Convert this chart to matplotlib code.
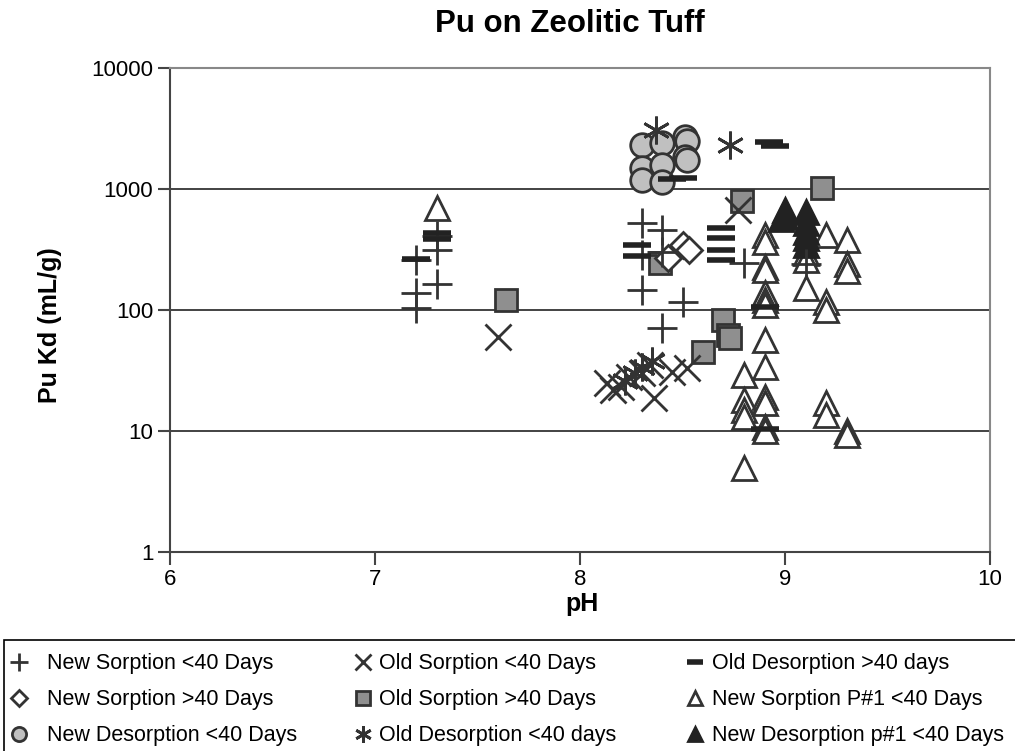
import matplotlib
matplotlib.use("Agg")
import matplotlib.pyplot as plt
from matplotlib.patches import Rectangle

plt.rcParams['font.family'] = ['Liberation Sans', 'DejaVu Sans']

# New Sorption <40 Days
ns_lt_ph = [7.2, 7.2, 7.2, 7.3, 7.3, 7.3, 8.3, 8.4, 8.3, 8.4, 8.3, 8.5, 8.8, 8.4, 9.1]
ns_lt_kd = [259, 138, 104, 164, 313, 410, 524, 458, 285, 300, 146, 116, 244, 71, 240]
# New Sorption >40 Days
ns_gt_ph = [8.5, 8.53, 8.43]
ns_gt_kd = [345, 313, 270]
# New Desorption <40 Days
nd_lt_ph = [8.3, 8.4, 8.51, 8.52, 8.51, 8.3, 8.4, 8.3, 8.4, 8.52]
nd_lt_kd = [2310, 2400, 2690, 2500, 1840, 1490, 1580, 1190, 1140, 1750]
# Old Sorption <40 Days
os_lt_ph = [7.6, 8.77, 8.13, 8.16, 8.36, 8.45, 8.52, 8.24, 8.3, 8.34, 8.2]
os_lt_kd = [60, 670, 25, 21.8, 18.8, 31, 33, 28, 30, 35, 23]
# Old Sorption >40 Days
os_gt_ph = [7.64, 8.39, 8.79, 9.18, 8.7, 8.72, 8.73, 8.6]
os_gt_kd = [121, 244, 790, 1020, 83, 62, 59, 45]
# Old Desorption <40 days
od_lt_ph = [8.37, 8.73, 8.3, 8.35, 8.27, 8.22]
od_lt_kd = [3100, 2300, 34, 38, 30, 26]
# Old Desorption >40 days
od_gt_ph = [7.2, 7.3, 7.3, 8.28, 8.28, 8.69, 8.69, 8.69, 8.69, 8.45, 8.5, 8.92, 8.95, 8.9, 8.9]
od_gt_kd = [265, 430, 385, 345, 282, 477, 393, 313, 259, 1210, 1240, 2450, 2280, 105, 10.3]
# New Sorption P#1 <40 Days
nsp_ph = [7.3, 8.8, 8.8, 8.8, 8.8, 8.8,
          8.9, 8.9, 8.9, 8.9, 8.9, 8.9, 8.9, 8.9, 8.9, 8.9, 8.9, 8.9, 8.9,
          9.1, 9.1, 9.1, 9.2, 9.2, 9.2, 9.2, 9.2, 9.3, 9.3, 9.3, 9.3, 9.3]
nsp_kd = [697, 29, 18, 15, 13, 4.9,
          417, 365, 226, 215, 138, 121, 110, 56.5, 34, 19, 17, 10.8, 10,
          295, 260, 151, 417, 116, 100, 17, 13.5, 380, 240, 210, 10, 9.3]
# New Desorption p#1 <40 Days
ndp_ph = [9.0, 9.0, 9.1, 9.1, 9.1, 9.1, 9.1, 8.98]
ndp_kd = [670, 590, 645, 520, 440, 395, 345, 560]

edge = '#333333'
fig = plt.figure(figsize=(10.15, 7.51), dpi=100)
ax = fig.add_axes([170/1015, 199/751, 820/1015, 484/751])

ax.plot(os_gt_ph, os_gt_kd, 's', ms=16, mfc='#8f8f8f', mec=edge, mew=2, label='Old Sorption >40 Days', zorder=3)
ax.plot(nd_lt_ph, nd_lt_kd, 'o', ms=17, mfc='#c0c0c0', mec=edge, mew=2, label='New Desorption <40 Days', zorder=3)
ax.plot(nsp_ph, nsp_kd, '^', ms=17, mfc='white', mec=edge, mew=2, label='New Sorption P#1 <40 Days', zorder=3)
ax.plot(ndp_ph, ndp_kd, '^', ms=17, mfc='#222222', mec='#222222', mew=2, label='New Desorption p#1 <40 Days', zorder=3)
ax.plot(ns_gt_ph, ns_gt_kd, 'D', ms=13, mfc='white', mec=edge, mew=2, label='New Sorption >40 Days', zorder=3)
ax.plot(ns_lt_ph, ns_lt_kd, '+', ms=21, mec=edge, mew=2, label='New Sorption <40 Days', zorder=4)
ax.plot(os_lt_ph, os_lt_kd, 'x', ms=19, mec=edge, mew=2, label='Old Sorption <40 Days', zorder=4)
ax.plot(od_lt_ph, od_lt_kd, marker=(6, 2, 0), ls='none', ms=20, mec=edge, mew=2, label='Old Desorption <40 days', zorder=4)
ax.plot(od_gt_ph, od_gt_kd, '_', ms=20, mec='#222222', mew=4, label='Old Desorption >40 days', zorder=4)

ax.set_yscale('log')
ax.set_xlim(6, 10)
ax.set_ylim(1, 10000)
ax.set_xticks([6, 7, 8, 9, 10])
ax.set_yticks([1, 10, 100, 1000, 10000])
ax.set_yticklabels(['1', '10', '100', '1000', '10000'])
ax.minorticks_off()
ax.tick_params(labelsize=16, length=9, pad=3, color='#444444', width=1.5)
ax.grid(axis='y', color='#222222', lw=1.2)
ax.set_axisbelow(True)
for s in ax.spines.values():
    s.set_color('#888888')
    s.set_linewidth(1.5)
ax.spines['bottom'].set_color('#444444')
ax.spines['left'].set_color('#444444')

fig.text(570/1015, 1 - 24/751, 'Pu on Zeolitic Tuff', fontsize=22.5, fontweight='bold', ha='center', va='center')
fig.text(582/1015, 1 - 604/751, 'pH', fontsize=18, fontweight='bold', ha='center', va='center')
fig.text(50/1015, 1 - 325/751, 'Pu Kd (mL/g)', fontsize=18, fontweight='bold', ha='center', va='center', rotation=90)

# legend: three columns placed like the reference
h, l = ax.get_legend_handles_labels()
hd = dict(zip(l, h))
cols = [['New Sorption <40 Days', 'New Sorption >40 Days', 'New Desorption <40 Days'],
        ['Old Sorption <40 Days', 'Old Sorption >40 Days', 'Old Desorption <40 days'],
        ['Old Desorption >40 days', 'New Sorption P#1 <40 Days', 'New Desorption p#1 <40 Days']]
col_x = [5, 349, 681]
col_pad = [0.85, 0.3, 0.35]
for names, x, tp in zip(cols, col_x, col_pad):
    fig.legend([hd[k] for k in names], names, loc='upper left', bbox_to_anchor=(x/1015, 1 - 649/751),
               frameon=False, fontsize=15.5, markerscale=0.6, handlelength=0.9,
               handletextpad=tp, labelspacing=0.7, borderaxespad=0, borderpad=0.2)
fig.patches.append(Rectangle((0.004, -0.01), 1.0, 1 - 640/751 + 0.01, transform=fig.transFigure,
                             fill=False, ec='black', lw=1.2))

plt.savefig('out.png', dpi=100)
